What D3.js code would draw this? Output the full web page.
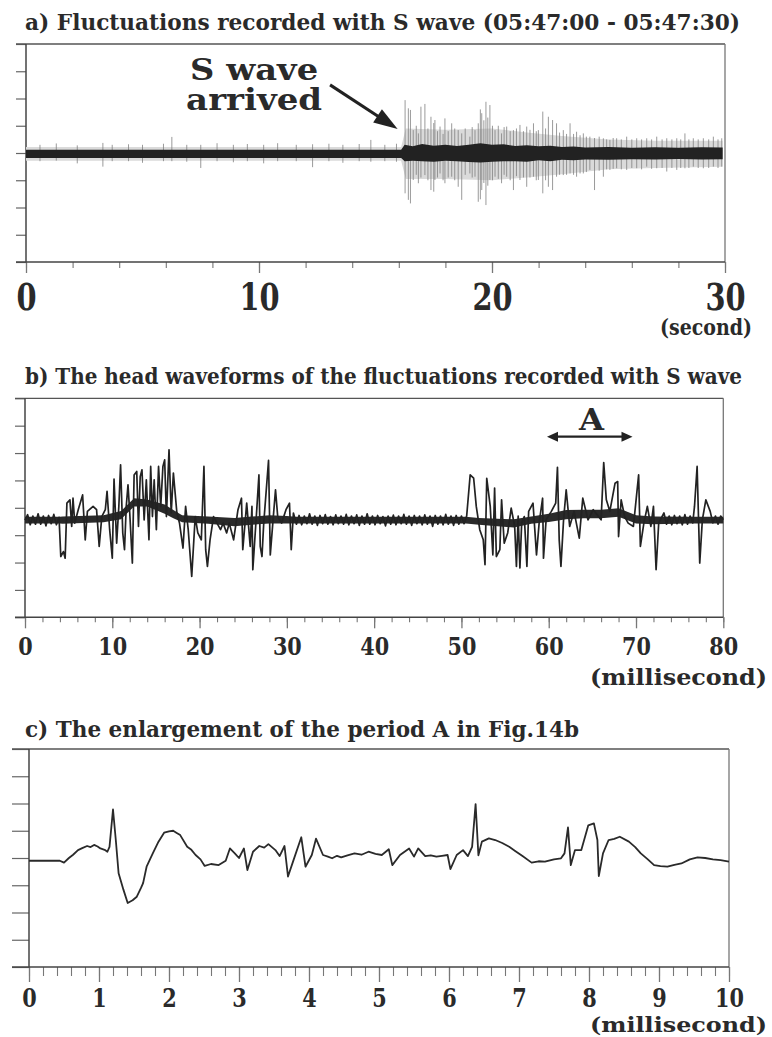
<!DOCTYPE html>
<html>
<head>
<meta charset="utf-8">
<style>
  body { margin: 0; background: #fff; }
  svg { display: block; }
  text { font-family: "DejaVu Serif", serif; font-weight: bold; fill: #2a2a2a; }
</style>
</head>
<body>
<svg width="772" height="1037"></svg>
<script src="https://d3js.org/d3.v7.min.js"></script>
<script>
// ---------- data ----------
// panel a: seismogram 0-30 s, amplitude in tick units (8 ticks, centre 0)
// dark core of the trace [t, hi, lo]
const aCore = [
  [0, 0.12, -0.18], [16.1, 0.12, -0.18], [16.25, 0.3, -0.3], [16.6, 0.25, -0.28], [17, 0.33, -0.3],
  [17.5, 0.27, -0.32], [18, 0.3, -0.28], [18.5, 0.26, -0.3], [19, 0.3, -0.33], [19.5, 0.36, -0.35],
  [20, 0.3, -0.32], [20.5, 0.32, -0.3], [21, 0.26, -0.3], [21.5, 0.28, -0.32], [22, 0.25, -0.27],
  [22.5, 0.27, -0.3], [23, 0.22, -0.25], [23.5, 0.24, -0.27], [24, 0.2, -0.24], [25, 0.22, -0.25],
  [26, 0.19, -0.23], [27, 0.21, -0.24], [28, 0.19, -0.22], [29, 0.21, -0.24], [29.9, 0.2, -0.23]
];
// light grey outer fuzz [t, hi, lo]
const aHalo = [
  [0, 0.22, -0.28], [16.1, 0.22, -0.28], [16.3, 0.9, -0.95], [18, 0.85, -0.95], [20, 0.9, -1.0],
  [21.5, 0.75, -0.9], [23, 0.62, -0.78], [25, 0.5, -0.6], [27, 0.45, -0.55], [29.9, 0.45, -0.5]
];
// single spikes [t, hi, lo]
const aSpikes = [
  [0.6, 0.3, -0.3], [1.3, 0.35, -0.28], [2.2, 0.28, -0.38], [3.3, 0.37, -0.5], [3.7, 0.3, -0.3],
  [4.4, 0.32, -0.3], [5.0, 0.3, -0.36], [5.9, 0.34, -0.3], [6.26, 0.59, -0.3], [6.9, 0.3, -0.32],
  [7.5, 0.3, -0.55], [8.2, 0.36, -0.3], [8.9, 0.3, -0.34], [9.5, 0.33, -0.3], [10.2, 0.3, -0.38],
  [10.8, 0.36, -0.3], [11.6, 0.3, -0.3], [12.3, 0.32, -0.52], [13.0, 0.34, -0.3], [13.6, 0.3, -0.36],
  [14.3, 0.33, -0.3], [14.8, 0.48, -0.32], [15.4, 0.3, -0.3], [15.9, 0.34, -0.32],
  [16.27, 1.94, -1.48], [16.41, 1.64, -1.72], [16.5, 1.58, -1.85], [16.62, 0.84, -0.99], [16.75, 1.0, -0.8],
  [16.84, 0.72, -1.11], [16.95, 1.7, -0.9], [17.12, 1.8, -0.81], [17.25, 0.9, -1.0], [17.38, 1.33, -1.36],
  [17.5, 1.1, -1.42], [17.55, 1.21, -0.99], [17.66, 0.8, -0.9], [17.77, 0.97, -0.75], [17.9, 0.7, -1.0],
  [17.98, 1.27, -1.11], [18.12, 0.8, -0.9], [18.27, 1.09, -0.87], [18.4, 0.9, -1.0], [18.55, 0.84, -1.24],
  [18.7, 0.72, -1.72], [18.85, 0.9, -0.8], [19.05, 0.6, -0.75], [19.15, 0.95, -0.9], [19.27, 0.84, -0.87],
  [19.41, 1.09, -1.79], [19.5, 1.6, -1.7], [19.56, 1.46, -1.36], [19.65, 1.2, -1.1], [19.74, 1.88, -1.91],
  [19.82, 1.3, -1.2], [19.91, 1.76, -0.99], [20.02, 1.0, -1.0], [20.13, 0.84, -0.87], [20.27, 1.0, -0.95],
  [20.41, 0.72, -1.11], [20.52, 0.95, -0.8], [20.63, 0.97, -0.87], [20.78, 0.8, -1.0], [20.92, 0.84, -1.36],
  [21.05, 0.9, -0.85], [21.2, 1.03, -0.99], [21.35, 0.8, -0.9], [21.49, 0.97, -1.24], [21.63, 0.85, -0.9],
  [21.78, 1.09, -0.87], [21.9, 0.8, -1.0], [21.99, 0.84, -0.99], [22.18, 1.52, -1.48], [22.3, 0.9, -1.0],
  [22.42, 1.33, -1.24], [22.6, 1.21, -1.36], [22.77, 1.09, -0.87], [22.9, 0.75, -0.8], [23.06, 0.84, -0.81],
  [23.2, 0.7, -0.8], [23.35, 1.09, -0.75], [23.5, 0.7, -0.8], [23.63, 0.78, -0.87], [23.78, 0.65, -0.75],
  [23.92, 0.72, -0.75], [24.05, 0.6, -0.7], [24.2, 0.6, -0.62], [24.4, 0.55, -1.36], [24.6, 0.6, -0.65],
  [24.78, 0.54, -0.87], [24.92, 0.5, -0.6], [25.06, 0.48, -0.62], [25.2, 0.55, -0.58], [25.35, 0.54, -0.56],
  [25.55, 0.5, -0.6], [25.78, 0.6, -0.62], [26.0, 0.5, -0.55], [26.21, 0.54, -0.56], [26.42, 0.5, -0.6],
  [26.64, 0.54, -0.5], [26.85, 0.5, -0.58], [27.07, 0.6, -0.56], [27.3, 0.5, -0.55], [27.5, 0.54, -0.68],
  [27.72, 0.5, -0.55], [27.93, 0.54, -0.62], [28.1, 0.5, -0.55], [28.28, 0.72, -0.56], [28.45, 0.5, -0.55],
  [28.64, 0.54, -0.5], [28.85, 0.5, -0.55], [29.07, 0.54, -0.56], [29.3, 0.5, -0.55], [29.5, 0.6, -0.5],
  [29.7, 0.5, -0.55], [29.86, 0.54, -0.5]
];

// panel b: head waveform 0-80 ms [t, value]
const bTrace = [
  [0, -0.45], [0.3, -0.25], [0.6, -0.62], [0.9, -0.3], [1.2, -0.6], [1.5, -0.22], [1.8, -0.6], [2.1, -0.3],
  [2.4, -0.66], [2.7, -0.28], [3.0, -0.58], [3.3, -0.24], [3.6, -0.62], [3.9, -0.35],
  [4.1, -1.78], [4.4, -1.6], [4.6, -1.84], [4.8, 0.17], [5.15, 0.29], [5.35, -0.68], [5.5, 0.35], [5.7, -0.56],
  [6.1, -0.07], [6.6, 0.47], [6.9, -1.17], [7.15, -0.13], [7.8, 0.05], [8.2, -0.07], [8.5, -1.41], [8.8, -0.32],
  [9.2, -0.07], [9.4, 0.6], [9.7, -0.8], [10, -1.84], [10.2, 1.05], [10.5, -1.29], [10.75, 0.05], [10.95, 1.57],
  [11.2, -0.92], [11.4, -1.53], [11.6, 0.05], [11.8, 0.84], [12.0, -0.19], [12.3, -2.02], [12.5, 1.2], [12.8, 1.33],
  [13.0, -0.68], [13.2, 1.14], [13.4, 1.39], [13.65, -0.44], [13.9, 1.02], [14.2, -1.17], [14.4, 1.51], [14.6, -0.32],
  [14.8, 1.02], [15.05, -0.8], [15.3, 1.51], [15.55, 0.05], [15.8, 1.51], [16.0, 1.75], [16.2, -0.32], [16.5, 2.12],
  [16.75, -0.19], [17.0, 1.27], [17.4, -0.19], [17.7, -0.56], [18.1, -1.47], [18.4, 0.05], [18.7, -0.8], [19.1, -2.51],
  [19.5, -0.32], [19.8, -0.92], [20.2, -1.17], [20.5, 1.51], [20.7, -1.53], [20.9, -2.14], [21.2, -1.17], [21.6, -0.32],
  [22.0, -0.56], [22.4, -0.8], [22.7, -0.56], [23.1, -0.92], [23.4, -0.56], [23.9, -1.17], [24.4, -0.07], [24.8, 0.35],
  [24.95, -1.53], [25.4, 0.17], [25.8, -1.41], [26.0, 0.05], [26.1, -2.26], [26.5, -0.32], [26.8, 1.2], [26.95, -1.41],
  [27.15, -1.78], [27.35, -0.56], [27.9, 1.73], [28.1, -1.72], [28.45, -0.32], [28.7, 0.66], [28.95, -0.32], [29.4, -0.56],
  [29.9, -0.07], [30.3, 0.17], [30.5, -1.53], [30.75, -0.19],
  [31.1, -0.6], [31.4, -0.28], [31.7, -0.62], [32.0, -0.3], [32.3, -0.58], [32.6, -0.22], [32.9, -0.6], [33.2, -0.3],
  [33.5, -0.64], [33.8, -0.28], [34.1, -0.58], [34.4, -0.25], [34.7, -0.6], [35.0, -0.32], [35.3, -0.62], [35.6, -0.26],
  [35.9, -0.58], [36.2, -0.3], [36.5, -0.6], [36.8, -0.24], [37.1, -0.62], [37.4, -0.3], [37.7, -0.58], [38.0, -0.26],
  [38.3, -0.64], [38.6, -0.3], [38.9, -0.6], [39.2, -0.22], [39.5, -0.6], [39.8, -0.3], [40.1, -0.62], [40.4, -0.28],
  [40.7, -0.58], [41.0, -0.32], [41.3, -0.66], [41.6, -0.3], [41.9, -0.6], [42.2, -0.27], [42.5, -0.62], [42.8, -0.3],
  [43.1, -0.58], [43.4, -0.24], [43.7, -0.6], [44.0, -0.3], [44.3, -0.64], [44.6, -0.28], [44.9, -0.58], [45.2, -0.3],
  [45.5, -0.62], [45.8, -0.26], [46.1, -0.6], [46.4, -0.3], [46.7, -0.68], [47.0, -0.28], [47.3, -0.6], [47.6, -0.3],
  [47.9, -0.62], [48.2, -0.24], [48.5, -0.6], [48.8, -0.3], [49.1, -0.64], [49.4, -0.28], [49.7, -0.6], [50.0, -0.3],
  [50.3, -0.58], [50.6, -0.3],
  [51.0, 1.2], [51.4, 1.08], [51.7, 0.05], [52.1, -0.8], [52.5, -1.17], [52.7, -2.08], [52.9, 1.08], [53.3, 0.05],
  [53.6, -1.72], [53.8, 0.72], [54.0, -1.78], [54.4, -1.53], [54.6, 0.29], [54.9, -1.29], [55.3, -0.92], [55.7, -0.01],
  [56.1, -0.68], [56.3, -2.14], [56.5, -0.3], [56.7, -2.2], [56.9, -0.56], [57.2, -0.32], [57.5, -2.14], [57.7, -0.13],
  [58.2, 0.17], [58.6, -1.72], [58.9, -0.56], [59.3, 0.35], [59.4, -1.84], [59.7, -0.44], [60.3, -0.13], [60.8, 0.17],
  [61.0, 1.48], [61.2, -1.17], [61.4, -2.14], [61.7, -0.44], [62.0, 0.66], [62.4, -0.68], [62.9, -0.13], [63.5, -1.11],
  [63.9, 0.35], [64.5, -0.44], [65.1, -0.07], [65.7, -0.32], [66.0, -0.44], [66.3, 1.65], [66.6, 0.29], [67.0, -0.13],
  [67.6, 0.9], [67.9, 0.96], [68.0, -1.05], [68.3, 0.29], [68.7, -0.32], [69.1, -0.56], [69.7, -0.68], [70.3, 1.2],
  [70.5, -1.41], [70.9, -0.56], [71.3, 0.05], [71.7, -0.68], [72.0, 0.05], [72.3, -2.26], [72.6, -0.56], [73.2, -0.19],
  [73.5, -0.6], [73.8, -0.3], [74.1, -0.62], [74.4, -0.28], [74.7, -0.58], [75.0, -0.3], [75.3, -0.62], [75.6, -0.25],
  [75.9, -0.6], [76.2, -0.3], [76.5, -0.55], [76.7, 0.05], [77.0, 1.51], [77.3, -2.02], [77.6, -0.44],
  [78.0, 0.29], [78.5, -0.13], [78.8, -0.55], [79.1, -0.3], [79.4, -0.6], [79.7, -0.3], [80, -0.44]
];
// dense noise band along the trace [t, hi, lo]
const bBand = [
  [0, -0.33, -0.57], [4, -0.33, -0.57], [4.3, -0.32, -0.58], [9, -0.27, -0.53], [11, -0.12, -0.42], [12.5, 0.35, 0.05],
  [14, 0.3, 0.05], [16, 0.12, -0.22], [17, -0.08, -0.38], [18, -0.27, -0.53], [21, -0.32, -0.58], [24, -0.37, -0.67],
  [26, -0.32, -0.62], [28, -0.27, -0.57], [30, -0.3, -0.57], [31, -0.33, -0.57], [50.5, -0.33, -0.57], [52, -0.37, -0.62],
  [56, -0.42, -0.72], [58, -0.32, -0.58], [60, -0.22, -0.52], [62, -0.08, -0.42], [64, -0.07, -0.38], [66, -0.07, -0.38],
  [68, -0.02, -0.33], [70, -0.27, -0.57], [72, -0.32, -0.6], [76, -0.33, -0.57], [80, -0.33, -0.57]
];

// panel c: period A enlarged, 0-10 ms [t, value]
const cTrace = [
  [0, -0.1], [0.44, -0.1], [0.5, -0.17], [0.57, 0.0], [0.63, 0.12], [0.7, 0.29], [0.76, 0.36], [0.83, 0.44],
  [0.88, 0.4], [0.93, 0.48], [0.98, 0.42], [1.02, 0.35], [1.08, 0.3], [1.12, 0.23], [1.15, 0.41], [1.2, 1.78],
  [1.24, 0.66], [1.28, -0.56], [1.35, -1.17], [1.41, -1.65], [1.48, -1.55], [1.54, -1.42], [1.6, -1.1],
  [1.63, -0.92], [1.68, -0.32], [1.77, 0.18], [1.85, 0.6], [1.93, 0.93], [2.0, 0.98], [2.06, 1.0], [2.11, 0.92],
  [2.16, 0.84], [2.26, 0.41], [2.32, 0.3], [2.38, 0.11], [2.45, -0.05], [2.51, -0.29], [2.6, -0.22], [2.71, -0.26],
  [2.81, -0.1], [2.87, 0.35], [2.94, 0.17], [3.0, 0.0], [3.07, 0.35], [3.12, -0.44], [3.2, 0.23], [3.29, 0.44],
  [3.36, 0.38], [3.42, 0.51], [3.52, 0.29], [3.58, 0.07], [3.65, 0.44], [3.7, -0.68], [3.78, -0.07], [3.89, 0.76],
  [3.95, -0.32], [4.04, 0.11], [4.1, 0.71], [4.2, 0.11], [4.27, 0.05], [4.33, -0.01], [4.4, 0.08], [4.46, 0.02],
  [4.55, 0.1], [4.65, 0.17], [4.75, 0.12], [4.85, 0.23], [4.95, 0.15], [5.04, 0.11], [5.14, 0.32], [5.19, -0.26],
  [5.3, 0.11], [5.43, 0.35], [5.5, 0.05], [5.56, 0.35], [5.66, 0.07], [5.74, 0.1], [5.82, 0.05], [5.9, 0.08],
  [5.98, 0.11], [6.02, -0.41], [6.11, 0.11], [6.2, 0.29], [6.27, 0.07], [6.33, 0.41], [6.38, 1.98], [6.42, 0.1],
  [6.47, 0.6], [6.57, 0.72], [6.66, 0.66], [6.76, 0.55], [6.86, 0.41], [6.95, 0.25], [7.05, 0.07], [7.18, -0.17],
  [7.28, -0.12], [7.37, -0.13], [7.5, -0.05], [7.6, -0.01], [7.65, 0.17], [7.7, 1.12], [7.74, -0.26], [7.8, 0.29],
  [7.89, 0.29], [7.99, 1.2], [8.07, 1.27], [8.12, 0.66], [8.14, -0.66], [8.2, 0.17], [8.28, 0.66], [8.36, 0.7],
  [8.44, 0.78], [8.57, 0.6], [8.66, 0.4], [8.74, 0.17], [8.84, -0.05], [8.93, -0.26], [9.02, -0.3], [9.12, -0.32],
  [9.22, -0.25], [9.32, -0.2], [9.44, -0.05], [9.55, 0.02], [9.66, 0.0], [9.77, -0.05], [9.88, -0.08], [10, -0.13]
];

const yTicks = [-4, -3, -2, -1, 0, 1, 2, 3, 4];
const aLabels = [0, 10, 20, 30];
const bLabels = [0, 10, 20, 30, 40, 50, 60, 70, 80];
const cLabels = [0, 1, 2, 3, 4, 5, 6, 7, 8, 9, 10];

// ---------- drawing ----------
let svg = d3.select("svg");

function panel(cfg) {
  let x = d3.scaleLinear().domain(cfg.xDomain).range([cfg.left, cfg.right]);
  let y = d3.scaleLinear().domain([-4, 4]).range([cfg.bottom, cfg.top]);
  let g = svg.append("g");

  // left ticks
  g.append("g")
    .attr("transform", `translate(${cfg.left},0)`)
    .call(d3.axisLeft(y).tickValues(yTicks).tickSize(cfg.yTick).tickFormat(""))
    .call(s => s.select(".domain").remove())
    .selectAll("line").attr("stroke", "#666").attr("stroke-width", 1.2);

  // minor x ticks
  g.append("g")
    .attr("transform", `translate(0,${cfg.bottom})`)
    .call(d3.axisBottom(x).tickValues(cfg.minor).tickSize(cfg.minorLen).tickFormat(""))
    .call(s => s.select(".domain").remove())
    .selectAll("line").attr("stroke", "#777").attr("stroke-width", 1.1);

  // major x ticks + labels (DejaVu is wide, squeeze it to a Times-like width)
  let ax = g.append("g")
    .attr("transform", `translate(0,${cfg.bottom})`)
    .call(d3.axisBottom(x).tickValues(cfg.labels).tickSize(cfg.majorLen).tickFormat(d3.format("d")))
    .call(s => s.select(".domain").remove());
  ax.attr("font-family", null).attr("font-size", null);
  ax.selectAll("line").attr("stroke", "#777").attr("stroke-width", 1.3);
  ax.selectAll("text")
    .attr("y", cfg.labelY).attr("dy", null)
    .attr("transform", `scale(${cfg.squeeze},1)`)
    .style("font-weight", "bold")
    .style("font-size", cfg.labelSize + "px")
    .attr("fill", "#2a2a2a");

  // frame
  g.append("line").attr("x1", cfg.left - cfg.yTick).attr("x2", cfg.right)
    .attr("y1", cfg.top).attr("y2", cfg.top).attr("stroke", "#555").attr("stroke-width", 1.3);
  g.append("line").attr("x1", cfg.right).attr("x2", cfg.right)
    .attr("y1", cfg.top).attr("y2", cfg.bottom).attr("stroke", "#777").attr("stroke-width", 1.3);
  g.append("line").attr("x1", cfg.left - cfg.yTick).attr("x2", cfg.right)
    .attr("y1", cfg.bottom).attr("y2", cfg.bottom).attr("stroke", "#444").attr("stroke-width", 1.4);
  g.append("line").attr("x1", cfg.left).attr("x2", cfg.left)
    .attr("y1", cfg.top).attr("y2", cfg.bottom).attr("stroke", "#444").attr("stroke-width", 1.5);

  // title
  svg.append("text").attr("x", 25).attr("y", cfg.titleY)
    .attr("textLength", cfg.titleW).attr("lengthAdjust", "spacingAndGlyphs")
    .style("font-size", "22px").text(cfg.title);

  // unit
  svg.append("text").attr("x", cfg.unitX - cfg.unitW).attr("y", cfg.unitY)
    .attr("textLength", cfg.unitW).attr("lengthAdjust", "spacingAndGlyphs")
    .style("font-size", cfg.unitSize + "px").text(cfg.unit);
  return { x, y, g };
}

// ----- panel a -----
let pa = panel({
  xDomain: [0, 30], left: 26, right: 725, top: 44, bottom: 262,
  yTick: 10, minor: d3.range(0, 31, 2), labels: aLabels, minorLen: 6, majorLen: 11,
  labelY: 48, labelSize: 38, squeeze: 0.76,
  title: "a) Fluctuations recorded with S wave (05:47:00 - 05:47:30)",
  titleY: 29.5, titleW: 715, unit: "(second)", unitX: 752, unitY: 335, unitW: 92, unitSize: 22
});

let haloArea = d3.area().x(d => pa.x(d[0])).y0(d => pa.y(d[2])).y1(d => pa.y(d[1]));
pa.g.append("path").datum(aHalo).attr("d", haloArea).attr("fill", "#dadada");

pa.g.selectAll(".spike").data(aSpikes).join("line")
  .attr("x1", d => pa.x(d[0])).attr("x2", d => pa.x(d[0]))
  .attr("y1", d => pa.y(d[1])).attr("y2", d => pa.y(d[2]))
  .attr("stroke", "#808080").attr("stroke-width", 0.8);

pa.g.append("path").datum(aCore).attr("d", haloArea).attr("fill", "#222");

// S wave annotation
let sx = pa.x(9.79);
svg.append("text").attr("x", sx).attr("y", pa.y(2.68)).attr("text-anchor", "middle")
  .attr("textLength", 128).attr("lengthAdjust", "spacingAndGlyphs")
  .style("font-size", "29px").text("S wave");
svg.append("text").attr("x", sx).attr("y", pa.y(1.58)).attr("text-anchor", "middle")
  .attr("textLength", 136).attr("lengthAdjust", "spacingAndGlyphs")
  .style("font-size", "29px").text("arrived");

function arrowHead(x1, y1, x2, y2, len, half) {
  let a = Math.atan2(y2 - y1, x2 - x1);
  let bx = x2 - len * Math.cos(a), by = y2 - len * Math.sin(a);
  let px = -Math.sin(a) * half, py = Math.cos(a) * half;
  return `M${x2},${y2}L${bx + px},${by + py}L${bx - px},${by - py}Z`;
}
{
  let x1 = pa.x(13.05), y1 = pa.y(2.5), x2 = pa.x(15.95), y2 = pa.y(0.88);
  let a = Math.atan2(y2 - y1, x2 - x1);
  svg.append("line").attr("x1", x1).attr("y1", y1)
    .attr("x2", x2 - 18 * Math.cos(a)).attr("y2", y2 - 18 * Math.sin(a))
    .attr("stroke", "#222").attr("stroke-width", 3);
  svg.append("path").attr("d", arrowHead(x1, y1, x2, y2, 24, 8)).attr("fill", "#222");
}

// ----- panel b -----
let pb = panel({
  xDomain: [0, 80], left: 25, right: 723.3, top: 398.3, bottom: 617.3,
  yTick: 10, minor: d3.range(0, 81, 2), labels: bLabels, minorLen: 5, majorLen: 11,
  labelY: 38, labelSize: 25, squeeze: 0.83,
  title: "b) The head waveforms of the fluctuations recorded with S wave",
  titleY: 383.5, titleW: 717, unit: "(millisecond)", unitX: 767, unitY: 685, unitW: 177, unitSize: 22
});

let bandArea = d3.area().x(d => pb.x(d[0])).y0(d => pb.y(d[2])).y1(d => pb.y(d[1]));
pb.g.append("path").datum(bBand).attr("d", bandArea).attr("fill", "#2a2a2a");
pb.g.append("path").datum(bTrace)
  .attr("d", d3.line().x(d => pb.x(d[0])).y(d => pb.y(d[1])))
  .attr("fill", "none").attr("stroke", "#222").attr("stroke-width", 1.7).attr("stroke-linejoin", "round");

// "A" period marker
{
  let x1 = pb.x(59.8), x2 = pb.x(69.6), yy = pb.y(2.6);
  svg.append("line").attr("x1", x1 + 6).attr("x2", x2 - 6).attr("y1", yy).attr("y2", yy)
    .attr("stroke", "#222").attr("stroke-width", 2.2);
  svg.append("path").attr("d", arrowHead(x2, yy, x1, yy, 11, 5)).attr("fill", "#222");
  svg.append("path").attr("d", arrowHead(x1, yy, x2, yy, 11, 5)).attr("fill", "#222");
  svg.append("text").attr("x", pb.x(64.9)).attr("y", pb.y(2.85)).attr("text-anchor", "middle")
    .attr("textLength", 25).attr("lengthAdjust", "spacingAndGlyphs")
    .style("font-size", "29px").text("A");
}

// ----- panel c -----
let pc = panel({
  xDomain: [0, 10], left: 29, right: 729, top: 749, bottom: 967,
  yTick: 17, minor: d3.range(0, 10.01, 0.2), labels: cLabels, minorLen: 9, majorLen: 15,
  labelY: 40, labelSize: 26, squeeze: 0.8,
  title: "c) The enlargement of the period A in Fig.14b",
  titleY: 736.5, titleW: 554, unit: "(millisecond)", unitX: 767, unitY: 1032, unitW: 177, unitSize: 20
});

pc.g.append("path").datum(cTrace)
  .attr("d", d3.line().x(d => pc.x(d[0])).y(d => pc.y(d[1])))
  .attr("fill", "none").attr("stroke", "#2a2a2a").attr("stroke-width", 1.8).attr("stroke-linejoin", "round");
</script>
</body>
</html>
